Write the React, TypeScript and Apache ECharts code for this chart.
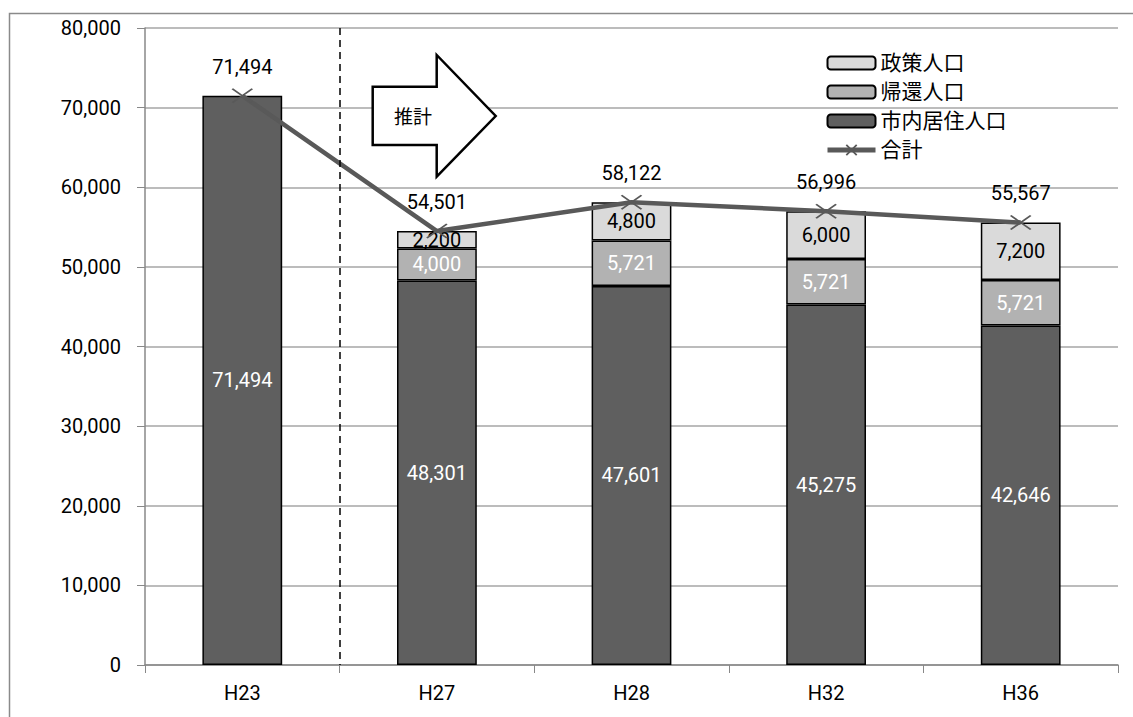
import React, { useEffect, useRef } from "react";
import * as echarts from "echarts";

const categories = ["H23", "H27", "H28", "H32", "H36"];
const residents = [71494, 48301, 47601, 45275, 42646];
const returnees = [null, 4000, 5721, 5721, 5721];
const policy = [null, 2200, 4800, 6000, 7200];
const totals = [71494, 54501, 58122, 56996, 55567];
const yTicks = { min: 0, max: 80000, interval: 10000 };

const FONT = "Roboto, 'Noto Sans CJK JP', sans-serif";
const fmt = (v: number) => Number(v).toLocaleString("en-US");

export default function App() {
  const ref = useRef<HTMLDivElement>(null);
  useEffect(() => {
    if (!ref.current) return;
    const chart = echarts.init(ref.current, null, { renderer: "svg" });
    const barBase = {
      type: "bar",
      stack: "pop",
      barWidth: "41%",
      itemStyle: { borderColor: "#000", borderWidth: 1.5 },
    };
    chart.setOption({
      animation: false,
      textStyle: { fontFamily: FONT },
      grid: { left: 145, right: 15, top: 28, bottom: 52 },
      legend: {
        orient: "vertical",
        left: 825,
        top: 52,
        padding: 0,
        itemWidth: 48,
        itemHeight: 13,
        itemGap: 7,
        data: [
          "政策人口",
          "帰還人口",
          "市内居住人口",
          { name: "合計", lineStyle: { width: 5, color: "#595959" }, itemStyle: { borderWidth: 1.8, borderColor: "#595959" } },
        ],
        textStyle: { fontSize: 21, color: "#000", fontFamily: FONT, lineHeight: 22 },
      },
      xAxis: {
        type: "category",
        data: categories,
        axisLine: { lineStyle: { color: "#888", width: 1.5 } },
        axisTick: { show: true, length: 8, lineStyle: { color: "#888" } },
        axisLabel: { fontSize: 20, color: "#000", margin: 18, fontFamily: FONT },
      },
      yAxis: {
        type: "value",
        min: yTicks.min,
        max: yTicks.max,
        interval: yTicks.interval,
        axisLine: { show: true, lineStyle: { color: "#888", width: 1.5 } },
        axisTick: { show: true, length: 8, lineStyle: { color: "#888" } },
        axisLabel: { fontSize: 20, color: "#000", margin: 24, formatter: fmt, fontFamily: FONT },
        splitLine: { lineStyle: { color: "#a6a6a6", width: 1.5 } },
      },
      series: [
        {
          ...barBase,
          name: "市内居住人口",
          data: residents,
          itemStyle: { color: "#5f5f5f", borderColor: "#000", borderWidth: 1.5 },
          label: { show: true, position: "inside", color: "#fff", fontSize: 20, formatter: (p: any) => fmt(p.value) },
        },
        {
          ...barBase,
          name: "帰還人口",
          data: returnees,
          itemStyle: { color: "#b2b2b2", borderColor: "#000", borderWidth: 1.5 },
          label: { show: true, position: "inside", color: "#fff", fontSize: 20, formatter: (p: any) => fmt(p.value) },
        },
        {
          ...barBase,
          name: "政策人口",
          data: policy,
          itemStyle: { color: "#dadada", borderColor: "#000", borderWidth: 1.5 },
          label: { show: true, position: "inside", color: "#000", fontSize: 20, formatter: (p: any) => fmt(p.value) },
        },
        {
          type: "line",
          name: "合計",
          data: totals,
          z: 5,
          symbol: "path://M0,0L10,10M10,0L0,10",
          symbolSize: [20, 14],
          showAllSymbol: true,
          lineStyle: { color: "#595959", width: 4.5 },
          itemStyle: { color: "none", borderColor: "#595959", borderWidth: 1.8 },
          label: { show: true, position: "top", distance: 10, color: "#000", fontSize: 20, formatter: (p: any) => fmt(p.value) },
        },
      ],
      graphic: [
        {
          type: "rect",
          silent: true,
          z: -10,
          shape: { x: 9.5, y: 13.5, width: 1200, height: 800 },
          style: { fill: "none", stroke: "#8a8a8a", lineWidth: 1.5 },
        },
        {
          type: "line",
          silent: true,
          z: 10,
          shape: { x1: 340, y1: 28, x2: 340, y2: 665 },
          style: { stroke: "#000", lineWidth: 1.5, lineDash: [7, 5] },
        },
        {
          type: "polygon",
          silent: true,
          z: 10,
          shape: {
            points: [
              [372.7, 86.7],
              [436.7, 86.7],
              [436.7, 55],
              [495.7, 116],
              [436.7, 176.7],
              [436.7, 145],
              [372.7, 145],
            ],
          },
          style: { fill: "#fff", stroke: "#000", lineWidth: 2.5 },
        },
        {
          type: "text",
          silent: true,
          z: 11,
          x: 413,
          y: 117,
          style: {
            text: "推計",
            fontSize: 19,
            fontFamily: FONT,
            fill: "#000",
            align: "center",
            verticalAlign: "middle",
          },
        },
      ],
    });
    return () => chart.dispose();
  }, []);
  return (
    <div
      ref={ref}
      style={{ position: "fixed", left: 0, top: 0, width: 1133, height: 717, background: "#fff" }}
    />
  );
}
